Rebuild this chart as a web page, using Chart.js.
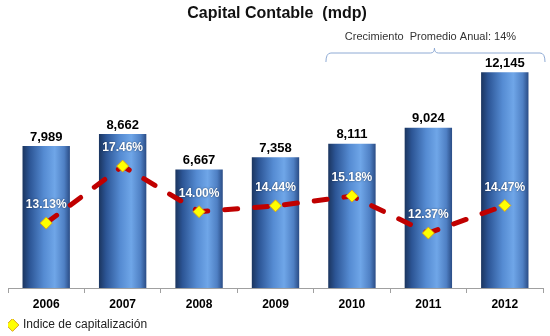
<!DOCTYPE html>
<html>
<head>
<meta charset="utf-8">
<script src="https://cdn.jsdelivr.net/npm/chart.js@4.4.1/dist/chart.umd.min.js"></script>
<style>
    html, body { margin:0; padding:0; background:#fff; }
    #wrap { width:550px; height:336px; }
</style>
</head>
<body>
<div id="wrap"><canvas id="myChart"></canvas></div>
<script>
// data
const years = ['2006', '2007', '2008', '2009', '2010', '2011', '2012'];
const capital = [7989, 8662, 6667, 7358, 8111, 9024, 12145];
const indice = [13.13, 17.46, 14.00, 14.44, 15.18, 12.37, 14.47];
const growthText = 'Crecimiento  Promedio Anual: 14%';
const growthFrom = 4; // bracket starts at 2010

const fontName = "'Liberation Sans', Arial, sans-serif";

function barGradient(c){
    let chart = c.chart;
    let xs = chart.scales.x;
    if (!xs || !chart.chartArea) return '#4a7cc4';
    let x = xs.getPixelForValue(c.dataIndex);
    let w = (xs.width / years.length) * 0.62;
    let g = chart.ctx.createLinearGradient(x - w / 2, 0, x + w / 2, 0);
    g.addColorStop(0, '#1b355f');
    g.addColorStop(0.15, '#2c5595');
    g.addColorStop(0.45, '#558bd2');
    g.addColorStop(0.68, '#6fa6e8');
    g.addColorStop(0.88, '#4f80c4');
    g.addColorStop(1, '#2a4c85');
    return g;
}

// value labels, percent labels and the growth bracket
const labelPlugin = {
    id: 'labelPlugin',
    afterDatasetsDraw(chart){
        let ctx = chart.ctx;
        ctx.save();
        ctx.textAlign = 'center';
        ctx.textBaseline = 'middle';

        let barMeta = chart.getDatasetMeta(1);
        ctx.fillStyle = '#000';
        ctx.font = 'bold 13px ' + fontName;
        barMeta.data.forEach((el, i) => {
            ctx.fillText(capital[i].toLocaleString('en-US'), el.x, el.y - 9);
        });

        let lineMeta = chart.getDatasetMeta(0);
        ctx.font = 'bold 12px ' + fontName;
        ctx.fillStyle = '#fff';
        ctx.shadowColor = 'rgba(0,0,0,0.55)';
        ctx.shadowBlur = 2;
        lineMeta.data.forEach((el, i) => {
            ctx.fillText(indice[i].toFixed(2) + '%', el.x, el.y - 18);
        });
        ctx.shadowBlur = 0;
        ctx.shadowColor = 'transparent';

        // bracket
        let xs = chart.scales.x;
        let left = xs.getPixelForValue(growthFrom) - 26;
        let right = chart.chartArea.right + 2;
        let mid = (left + right) / 2 - 1;
        let y = 53;
        ctx.strokeStyle = '#8eaad4';
        ctx.lineWidth = 1;
        ctx.beginPath();
        ctx.moveTo(left, y + 9);
        ctx.quadraticCurveTo(left, y, left + 5, y);
        ctx.lineTo(mid - 4, y);
        ctx.quadraticCurveTo(mid, y, mid, y - 5);
        ctx.quadraticCurveTo(mid, y, mid + 4, y);
        ctx.lineTo(right - 5, y);
        ctx.quadraticCurveTo(right, y, right, y + 9);
        ctx.stroke();

        ctx.fillStyle = '#333';
        ctx.font = '11px ' + fontName;
        ctx.fillText(growthText, mid - 4, 37);
        ctx.restore();
    }
};

let config = {
    type: 'bar',
    data: {
        labels: years,
        datasets: [
            {
                type: 'line',
                label: 'Índice de capitalización',
                data: indice,
                yAxisID: 'y2',
                borderColor: '#c00000',
                borderWidth: 5,
                borderDash: [13, 17],
                borderCapStyle: 'round',
                pointStyle: 'rectRot',
                pointRadius: 6,
                pointBackgroundColor: '#ffff00',
                pointBorderColor: '#d9a21b',
                pointBorderWidth: 1,
                tension: 0,
                order: 0
            },
            {
                type: 'bar',
                label: 'Capital Contable',
                data: capital,
                yAxisID: 'y',
                backgroundColor: barGradient,
                barPercentage: 0.62,
                categoryPercentage: 1,
                order: 1
            }
        ]
    },
    options: {
        animation: false,
        responsive: true,
        maintainAspectRatio: false,
        layout: { padding: { left: 8, right: 4, top: 0, bottom: -5 } },
        plugins: {
            title: {
                display: true,
                text: 'Capital Contable  (mdp)',
                color: '#111',
                font: { family: fontName, size: 16, weight: 'bold' },
                padding: { top: 4, bottom: 16 }
            },
            legend: {
                display: true,
                position: 'bottom',
                align: 'start',
                labels: {
                    filter: item => item.datasetIndex === 0,
                    usePointStyle: true,
                    boxWidth: 9,
                    boxHeight: 9,
                    padding: 0,
                    color: '#222',
                    font: { family: fontName, size: 12 }
                }
            },
            tooltip: { enabled: false }
        },
        scales: {
            x: {
                grid: { display: true, drawOnChartArea: false, tickLength: 5, color: '#a0a0a0' },
                border: { color: '#a0a0a0' },
                ticks: { color: '#000', padding: 4, font: { family: fontName, size: 12, weight: 'bold' } },
                afterFit: scale => { scale.height = 31; }
            },
            y: { display: false, min: 0, max: 14000 },
            y2: { display: false, min: 8.2, max: 27.1 }
        }
    },
    plugins: [labelPlugin]
};

new Chart(document.getElementById('myChart'), config);
</script>
</body>
</html>
